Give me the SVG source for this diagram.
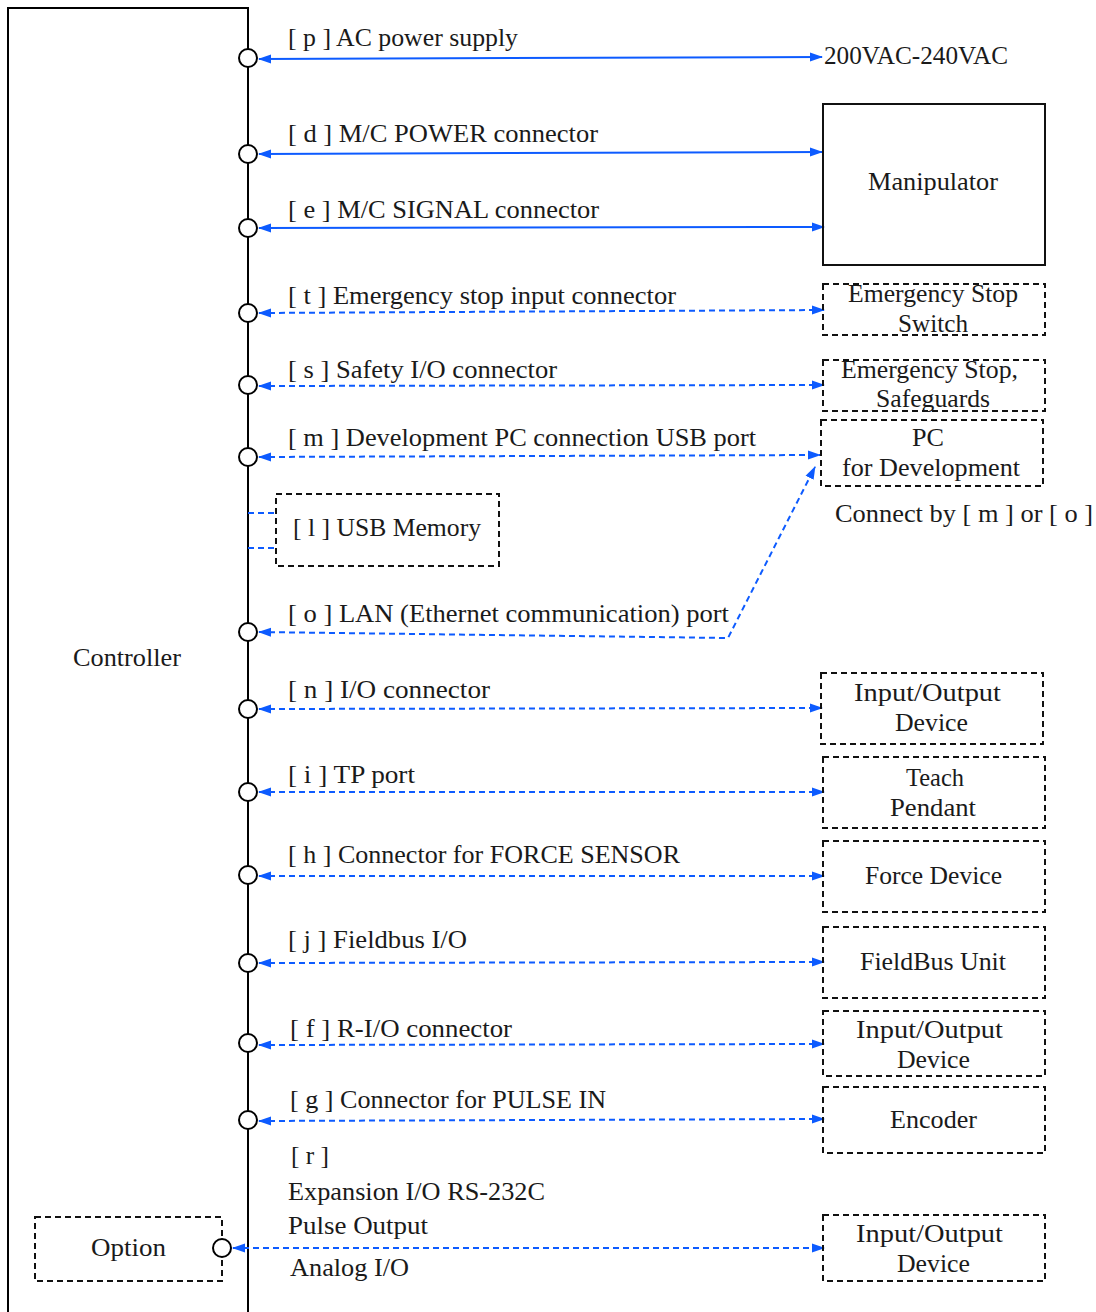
<svg xmlns="http://www.w3.org/2000/svg" width="1096" height="1312" viewBox="0 0 1096 1312">
<style>
text{font-family:"Liberation Serif","DejaVu Serif",serif;font-size:26px;fill:#1a1a1a}
.c{text-anchor:middle}
.frame{fill:none;stroke:#000;stroke-width:2}
.box{fill:none;stroke:#111;stroke-width:2}
.dbox{fill:none;stroke:#111;stroke-width:2;stroke-dasharray:6 4}
.port{fill:#fff;stroke:#000;stroke-width:2}
.ln{fill:none;stroke:#0d5bff;stroke-width:2;marker-start:url(#ah);marker-end:url(#ah)}
.dl{fill:none;stroke:#0d5bff;stroke-width:2;stroke-dasharray:6 4;marker-start:url(#ah);marker-end:url(#ah)}
.dn{fill:none;stroke:#0d5bff;stroke-width:2;stroke-dasharray:6 4}
</style>
<defs>
<marker id="ah" markerUnits="userSpaceOnUse" markerWidth="13" markerHeight="10" refX="12" refY="4.5" orient="auto-start-reverse" viewBox="0 0 13 9">
<path d="M0,0 L13,4.5 L0,9 z" fill="#0d5bff"/>
</marker>
</defs>

<g id="controller">
<path class="frame" d="M8,1312 V8 H248 V1312"/>
<text x="127" y="666" class="c" textLength="108" lengthAdjust="spacingAndGlyphs">Controller</text>
</g>

<g id="connectors">
<line class="ln" x1="259" y1="59" x2="822" y2="57"/>
<line class="ln" x1="259" y1="154" x2="822" y2="152"/>
<line class="ln" x1="259" y1="228" x2="824" y2="227"/>
<line class="dl" x1="259" y1="313" x2="824" y2="310"/>
<line class="dl" x1="259" y1="386" x2="824" y2="385"/>
<line class="dl" x1="259" y1="457" x2="820" y2="455"/>
<path class="dn" d="M248,513 H276 M248,548 H276"/>
<path class="dl" d="M259,632 L728,638 L815,467"/>
<line class="dl" x1="259" y1="709" x2="822" y2="708"/>
<line class="dl" x1="259" y1="792" x2="824" y2="792"/>
<line class="dl" x1="259" y1="876" x2="824" y2="876"/>
<line class="dl" x1="259" y1="963" x2="824" y2="962"/>
<line class="dl" x1="259" y1="1045" x2="824" y2="1044"/>
<line class="dl" x1="259" y1="1121" x2="824" y2="1119"/>
<line class="dl" x1="233" y1="1248" x2="824" y2="1248"/>
</g>

<g id="ports">
<circle class="port" cx="248" cy="58" r="9"/>
<circle class="port" cx="248" cy="154" r="9"/>
<circle class="port" cx="248" cy="228" r="9"/>
<circle class="port" cx="248" cy="313" r="9"/>
<circle class="port" cx="248" cy="385" r="9"/>
<circle class="port" cx="248" cy="457" r="9"/>
<circle class="port" cx="248" cy="632" r="9"/>
<circle class="port" cx="248" cy="709" r="9"/>
<circle class="port" cx="248" cy="792" r="9"/>
<circle class="port" cx="248" cy="875" r="9"/>
<circle class="port" cx="248" cy="963" r="9"/>
<circle class="port" cx="248" cy="1043" r="9"/>
<circle class="port" cx="248" cy="1120" r="9"/>
</g>

<g id="labels">
<text x="288" y="46" textLength="230" lengthAdjust="spacingAndGlyphs">[ p ] AC power supply</text>
<text x="288" y="142" textLength="310" lengthAdjust="spacingAndGlyphs">[ d ] M/C POWER connector</text>
<text x="288" y="218" textLength="311" lengthAdjust="spacingAndGlyphs">[ e ] M/C SIGNAL connector</text>
<text x="288" y="304" textLength="388" lengthAdjust="spacingAndGlyphs">[ t ] Emergency stop input connector</text>
<text x="288" y="378" textLength="269" lengthAdjust="spacingAndGlyphs">[ s ] Safety I/O connector</text>
<text x="288" y="446" textLength="468" lengthAdjust="spacingAndGlyphs">[ m ] Development PC connection USB port</text>
<text x="288" y="622" textLength="441" lengthAdjust="spacingAndGlyphs">[ o ] LAN (Ethernet communication) port</text>
<text x="288" y="698" textLength="202" lengthAdjust="spacingAndGlyphs">[ n ] I/O connector</text>
<text x="288" y="783" textLength="127" lengthAdjust="spacingAndGlyphs">[ i ] TP port</text>
<text x="288" y="863" textLength="392" lengthAdjust="spacingAndGlyphs">[ h ] Connector for FORCE SENSOR</text>
<text x="288" y="948" textLength="179" lengthAdjust="spacingAndGlyphs">[ j ] Fieldbus I/O</text>
<text x="290" y="1037" textLength="222" lengthAdjust="spacingAndGlyphs">[ f ] R-I/O connector</text>
<text x="290" y="1108" textLength="316" lengthAdjust="spacingAndGlyphs">[ g ] Connector for PULSE IN</text>
<text x="291" y="1164" textLength="38" lengthAdjust="spacingAndGlyphs">[ r ]</text>
<text x="288" y="1200" textLength="257" lengthAdjust="spacingAndGlyphs">Expansion I/O RS-232C</text>
<text x="288" y="1234" textLength="140" lengthAdjust="spacingAndGlyphs">Pulse Output</text>
<text x="290" y="1276" textLength="119" lengthAdjust="spacingAndGlyphs">Analog I/O</text>
</g>

<g id="ac">
<text x="824" y="64" textLength="184" lengthAdjust="spacingAndGlyphs">200VAC-240VAC</text>
</g>

<g id="manipulator">
<rect class="box" x="823" y="104" width="222" height="161"/>
<text x="933" y="190" class="c" textLength="130" lengthAdjust="spacingAndGlyphs">Manipulator</text>
</g>

<g id="estop-switch">
<rect class="dbox" x="823" y="284" width="222" height="51"/>
<text x="933" y="302" class="c" textLength="170" lengthAdjust="spacingAndGlyphs">Emergency Stop</text>
<text x="933" y="332" class="c" textLength="70" lengthAdjust="spacingAndGlyphs">Switch</text>
</g>

<g id="estop-safeguards">
<rect class="dbox" x="823" y="360" width="222" height="51"/>
<text x="929.5" y="378" class="c" textLength="177" lengthAdjust="spacingAndGlyphs">Emergency Stop,</text>
<text x="933" y="407" class="c" textLength="114" lengthAdjust="spacingAndGlyphs">Safeguards</text>
</g>

<g id="pc">
<rect class="dbox" x="821" y="420" width="222" height="66"/>
<text x="928" y="446" class="c" textLength="32" lengthAdjust="spacingAndGlyphs">PC</text>
<text x="931" y="476" class="c" textLength="178" lengthAdjust="spacingAndGlyphs">for Development</text>
<text x="835" y="522" textLength="258" lengthAdjust="spacingAndGlyphs">Connect by [ m ] or [ o ]</text>
</g>

<g id="usb-memory">
<rect class="dbox" x="276" y="494" width="223" height="72"/>
<text x="387" y="536" class="c" textLength="188" lengthAdjust="spacingAndGlyphs">[ l ] USB Memory</text>
</g>

<g id="io-n">
<rect class="dbox" x="821" y="673" width="222" height="71"/>
<text x="927.5" y="701" class="c" textLength="147" lengthAdjust="spacingAndGlyphs">Input/Output</text>
<text x="931.5" y="731" class="c" textLength="73" lengthAdjust="spacingAndGlyphs">Device</text>
</g>

<g id="teach-pendant">
<rect class="dbox" x="823" y="757" width="222" height="71"/>
<text x="935" y="786" class="c" textLength="58" lengthAdjust="spacingAndGlyphs">Teach</text>
<text x="933" y="816" class="c" textLength="86" lengthAdjust="spacingAndGlyphs">Pendant</text>
</g>

<g id="force-device">
<rect class="dbox" x="823" y="841" width="222" height="71"/>
<text x="933.5" y="884" class="c" textLength="137" lengthAdjust="spacingAndGlyphs">Force Device</text>
</g>

<g id="fieldbus">
<rect class="dbox" x="823" y="927" width="222" height="71"/>
<text x="933" y="970" class="c" textLength="146" lengthAdjust="spacingAndGlyphs">FieldBus Unit</text>
</g>

<g id="io-f">
<rect class="dbox" x="823" y="1011" width="222" height="65"/>
<text x="929.5" y="1038" class="c" textLength="147" lengthAdjust="spacingAndGlyphs">Input/Output</text>
<text x="933.5" y="1068" class="c" textLength="73" lengthAdjust="spacingAndGlyphs">Device</text>
</g>

<g id="encoder">
<rect class="dbox" x="823" y="1087" width="222" height="66"/>
<text x="933.5" y="1128" class="c" textLength="87" lengthAdjust="spacingAndGlyphs">Encoder</text>
</g>

<g id="io-r">
<rect class="dbox" x="823" y="1215" width="222" height="66"/>
<text x="929.5" y="1242" class="c" textLength="147" lengthAdjust="spacingAndGlyphs">Input/Output</text>
<text x="933.5" y="1272" class="c" textLength="73" lengthAdjust="spacingAndGlyphs">Device</text>
</g>

<g id="option">
<rect class="dbox" x="35" y="1217" width="187" height="64"/>
<text x="128.5" y="1256" class="c" textLength="75" lengthAdjust="spacingAndGlyphs">Option</text>
<circle class="port" cx="222" cy="1248" r="9"/>
</g>
</svg>
